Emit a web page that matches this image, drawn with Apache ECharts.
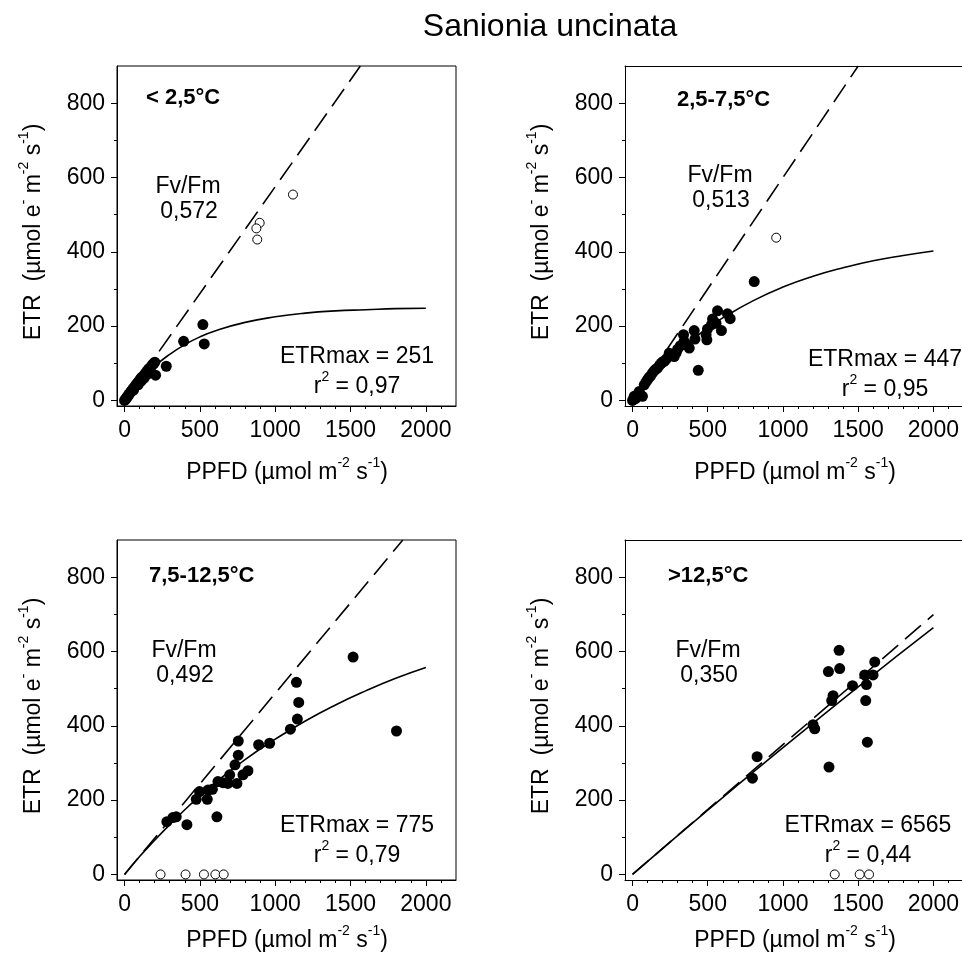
<!DOCTYPE html>
<html>
<head>
<meta charset="utf-8">
<script src="https://cdn.jsdelivr.net/npm/echarts@6/dist/echarts.min.js"></script>
<style>
  html, body { margin: 0; padding: 0; background: #fff; }
  #chart { width: 962px; height: 960px; }
</style>
</head>
<body>
<div id="chart"></div>
<script>
// ---------- DATA ----------
const panelLabels = ['< 2,5°C', '2,5-7,5°C', '7,5-12,5°C', '>12,5°C'];
const fvfmValues = ['0,572', '0,513', '0,492', '0,350'];
const etrMaxValues = ['251', '447', '775', '6565'];
const r2Values = ['0,97', '0,95', '0,79', '0,44'];

const xTickLabels = [0, 500, 1000, 1500, 2000];
const yTickLabels = [0, 200, 400, 600, 800];

// Panel 1: < 2,5 °C
const p1Filled = [[0,0],[5,2],[10,5],[15,8],[20,11],[25,13],[30,17],[38,21],[45,25],[52,29],[60,33],[68,37],[75,41],[82,45],[90,49],[98,53],[105,57],[112,61],[120,64],[130,68],[140,74],[150,79],[160,85],[175,90],[185,96],[195,100],[201,103],[206,68],[60,28],[90,42],[110,52],[130,60],[150,70],[170,78],[277,92],[392,159],[520,204],[529,152]];
const p1Open = [[1118,554],[897,478],[875,463],[881,433]];
const p1Fit = [[0,0],[100,51],[200,92],[300,124],[400,150],[500,171],[600,187],[800,210],[1000,225],[1200,235],[1400,241],[1600,244],[1800,247],[2000,248]];
const p1Slope = [[0,0],[1565,900]];

// Panel 2: 2,5-7,5 °C
const p2Filled = [[0,0],[11,11],[20,5],[30,15],[45,24],[66,11],[78,42],[90,50],[100,56],[110,62],[120,66],[133,74],[145,80],[155,84],[166,87],[180,95],[190,100],[200,104],[211,105],[225,112],[244,127],[260,122],[277,118],[290,128],[300,138],[317,147],[339,177],[343,159],[360,150],[377,141],[410,188],[415,165],[437,81],[489,177],[494,163],[498,192],[525,204],[532,219],[555,208],[565,241],[591,188],[631,233],[649,220],[809,320]];
const p2Open = [[955,438]];
const p2Fit = [[0,0],[100,48],[200,92],[300,130],[400,164],[500,195],[600,222],[800,268],[1000,305],[1200,334],[1400,357],[1600,376],[1800,390],[2000,402]];
const p2Slope = [[0,0],[1500,900]];

// Panel 3: 7,5-12,5 °C
const p3Filled = [[281,142],[321,153],[343,155],[414,134],[476,202],[498,223],[549,202],[554,227],[583,229],[613,155],[620,250],[653,247],[686,245],[698,268],[733,295],[746,245],[755,321],[755,359],[786,268],[819,279],[890,349],[963,353],[1101,391],[1147,418],[1156,463],[1141,517],[1517,585],[1805,386]];
const p3Open = [[239,0],[405,0],[527,0],[603,0],[658,0]];
const p3Fit = [[0,0],[100,48],[200,92],[300,134],[400,174],[500,211],[600,246],[800,309],[1000,364],[1200,413],[1400,456],[1600,494],[1800,528],[2000,557]];
const p3Slope = [[0,0],[1847,900]];

// Panel 4: > 12,5 °C
const p4Filled = [[797,259],[828,317],[1200,403],[1211,392],[1302,546],[1306,289],[1324,468],[1333,481],[1373,603],[1377,554],[1462,508],[1543,537],[1550,468],[1555,511],[1561,356],[1599,537],[1610,572]];
const p4Open = [[1344,0],[1510,0],[1572,0]];
const p4Fit = [[0,0],[500,173],[1000,341],[1500,505],[2000,664]];
const p4Slope = [[0,0],[2000,699]];

const filledSets = [p1Filled, p2Filled, p3Filled, p4Filled];
const openSets = [p1Open, p2Open, p3Open, p4Open];
const fitSets = [p1Fit, p2Fit, p3Fit, p4Fit];
const slopeSets = [p1Slope, p2Slope, p3Slope, p4Slope];

// ---------- LAYOUT ----------
const FONT = '"Liberation Sans", Arial, Helvetica, sans-serif';
const FS = 23;
// right-hand panels are cut by the canvas edge (no right border, as in the reference)
const grids = [
  { left: 117, top: 66, width: 339, height: 340, xMax: 2200, frame: true },
  { left: 625, top: 66, width: 337, height: 340, xMax: 2190, frame: false },
  { left: 117, top: 540, width: 339, height: 340, xMax: 2200, frame: true },
  { left: 625, top: 540, width: 337, height: 340, xMax: 2190, frame: false }
];
const ppfdY = [470, 470, 938, 938];
const X_MIN = -50, Y_MIN = -15, Y_MAX = 900;
const xMinor = [], yMinor = [];
for (let v = 100; v <= 2100; v += 100) if (v % 500 !== 0) xMinor.push(v);
for (let v = 100; v <= 800; v += 200) yMinor.push(v);

const xAxes = [], yAxes = [], series = [];
grids.forEach((g, i) => {
  const xa = xAxes.length;
  const ya = yAxes.length;
  xAxes.push({
    type: 'value', gridIndex: i, min: X_MIN, max: g.xMax, position: 'bottom',
    axisLine: { show: true, onZero: false, lineStyle: { color: '#000', width: 1 } },
    axisTick: { show: true, inside: false, length: 6, customValues: xTickLabels, lineStyle: { color: '#000' } },
    axisLabel: { show: true, customValues: xTickLabels, margin: 13, color: '#000', fontSize: FS, fontFamily: FONT,
      formatter: v => String(v) },
    splitLine: { show: false }
  });
  xAxes.push({
    type: 'value', gridIndex: i, min: X_MIN, max: g.xMax, position: 'bottom',
    axisLine: { show: false, onZero: false },
    axisTick: { show: true, inside: false, length: 3, customValues: xMinor, lineStyle: { color: '#000' } },
    axisLabel: { show: false }, splitLine: { show: false }
  });
  if (!g.frame) {
    // top border line of a clipped panel
    xAxes.push({
      type: 'value', gridIndex: i, min: X_MIN, max: g.xMax, position: 'top',
      axisLine: { show: true, onZero: false, lineStyle: { color: '#000', width: 1 } },
      axisTick: { show: false }, axisLabel: { show: false }, splitLine: { show: false }
    });
  }
  yAxes.push({
    type: 'value', gridIndex: i, min: Y_MIN, max: Y_MAX, position: 'left',
    axisLine: { show: true, onZero: false, lineStyle: { color: '#000', width: 1 } },
    axisTick: { show: true, inside: false, length: 6, customValues: yTickLabels, lineStyle: { color: '#000' } },
    axisLabel: { show: true, customValues: yTickLabels, margin: 12, color: '#000', fontSize: FS, fontFamily: FONT,
      formatter: v => String(v) },
    splitLine: { show: false }
  });
  yAxes.push({
    type: 'value', gridIndex: i, min: Y_MIN, max: Y_MAX, position: 'left',
    axisLine: { show: false, onZero: false },
    axisTick: { show: true, inside: false, length: 3, customValues: yMinor, lineStyle: { color: '#000' } },
    axisLabel: { show: false }, splitLine: { show: false }
  });
  series.push({
    type: 'line', xAxisIndex: xa, yAxisIndex: ya, data: fitSets[i], smooth: true,
    symbol: 'none', clip: true, silent: true, z: 2,
    lineStyle: { color: '#000', width: 1.6 }
  });
  series.push({
    type: 'line', xAxisIndex: xa, yAxisIndex: ya, data: slopeSets[i],
    symbol: 'none', clip: true, silent: true, z: 2,
    lineStyle: { color: '#000', width: 1.6, type: [21, 9] }
  });
  series.push({
    type: 'scatter', xAxisIndex: xa, yAxisIndex: ya, data: filledSets[i],
    symbol: 'circle', symbolSize: 11, clip: false, silent: true, z: 3,
    itemStyle: { color: '#000', borderWidth: 0, opacity: 1 }
  });
  series.push({
    type: 'scatter', xAxisIndex: xa, yAxisIndex: ya, data: openSets[i],
    symbol: 'circle', symbolSize: 9, clip: false, silent: true, z: 4,
    itemStyle: { color: '#fff', borderColor: '#000', borderWidth: 1, opacity: 1 }
  });
});

// ---------- TEXT ----------
const supRich = {
  n: { fontSize: FS, fontFamily: FONT, color: '#000', lineHeight: 28, verticalAlign: 'bottom' },
  s: { fontSize: 14, fontFamily: FONT, color: '#000', lineHeight: 28, verticalAlign: 'top' }
};
function txt(x, y, text, opts) {
  return {
    type: 'text', x: x, y: y, silent: true,
    style: Object.assign({
      text: text, fill: '#000', font: FS + 'px ' + FONT,
      align: 'center', verticalAlign: 'middle'
    }, opts || {})
  };
}
function richTxt(x, y, text, rot) {
  return {
    type: 'text', x: x, y: y, rotation: rot || 0, silent: true,
    style: {
      text: text, rich: supRich, fill: '#000', fontSize: FS, fontFamily: FONT,
      align: 'center', verticalAlign: 'middle'
    }
  };
}
const etrName = '{n|ETR  (µmol e}{s|-}{n| m}{s|-2}{n| s}{s|-1}{n|)}';
const ppfdName = '{n|PPFD (µmol m}{s|-2}{n| s}{s|-1}{n|)}';

const labelPos = [[146, 98], [677, 100], [149, 576], [668, 576]];
const fvPos = [[188, 187], [720, 176], [184, 651], [708, 651]];
const etrPos = [[357, 357], [885, 360], [357, 826], [868, 826]];

const graphics = [];
graphics.push(txt(550, 27, 'Sanionia uncinata', { font: '32px ' + FONT }));
grids.forEach((g, i) => {
  const cx = g.left + 169;
  const cy = g.top + g.height / 2;
  graphics.push(richTxt(g.left - 86, cy - 4, etrName, Math.PI / 2));
  graphics.push(richTxt(cx + 1, ppfdY[i], ppfdName));
  graphics.push(txt(labelPos[i][0], labelPos[i][1], panelLabels[i], { align: 'left', font: 'bold 22px ' + FONT }));
  graphics.push(txt(fvPos[i][0], fvPos[i][1], 'Fv/Fm'));
  graphics.push(txt(fvPos[i][0] + 1, fvPos[i][1] + 25, fvfmValues[i]));
  graphics.push(txt(etrPos[i][0], etrPos[i][1], 'ETRmax = ' + etrMaxValues[i]));
  graphics.push(richTxt(etrPos[i][0], etrPos[i][1] + 27, '{n|r}{s|2}{n| = ' + r2Values[i] + '}'));
});

const chart = echarts.init(document.getElementById('chart'), null, { renderer: 'canvas' });
chart.setOption({
  backgroundColor: '#fff',
  animation: false,
  grid: grids.map(g => ({ left: g.left, top: g.top, width: g.width, height: g.height,
    show: g.frame, borderColor: '#000', borderWidth: 1, backgroundColor: 'transparent', containLabel: false })),
  xAxis: xAxes,
  yAxis: yAxes,
  series: series,
  graphic: graphics
});
</script>
</body>
</html>
